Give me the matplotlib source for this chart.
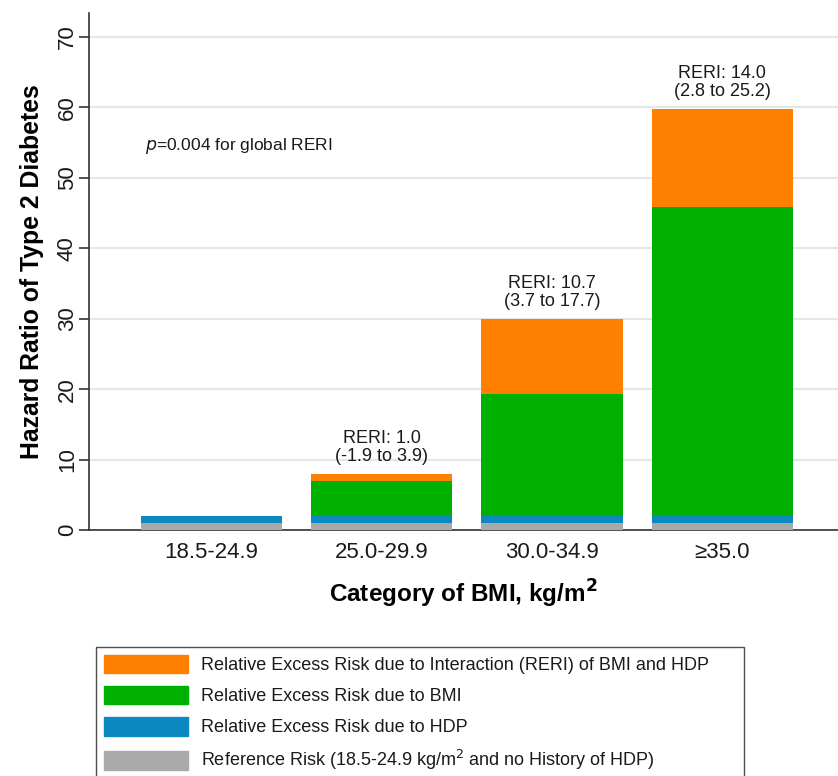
import matplotlib
matplotlib.use("Agg")
import matplotlib.pyplot as plt
import numpy as np
from matplotlib.patches import Patch

plt.rcParams['font.family'] = ['Liberation Sans', 'DejaVu Sans']

# data
categories = ['18.5-24.9', '25.0-29.9', '30.0-34.9', '\u226535.0']
ref_risk = [1.0, 1.0, 1.0, 1.0]
hdp_risk = [1.0, 1.0, 1.0, 1.0]
bmi_risk = [0.0, 5.0, 17.3, 43.8]
reri = [0.0, 1.0, 10.7, 14.0]
reri_labels = ['', 'RERI: 1.0\n(-1.9 to 3.9)', 'RERI: 10.7\n(3.7 to 17.7)', 'RERI: 14.0\n(2.8 to 25.2)']

c_ref = '#AAAAAA'
c_hdp = '#0C89C0'
c_bmi = '#00B000'
c_reri = '#FF7F00'

fig = plt.figure(figsize=(8.38, 7.76), dpi=100)
ax = fig.add_axes([89/838, 1 - 530/776, 1 - 89/838, (530 - 13)/776])

x = np.arange(len(categories))
w = 0.83
b1 = np.array(ref_risk)
b2 = b1 + np.array(hdp_risk)
b3 = b2 + np.array(bmi_risk)
ax.bar(x, ref_risk, w, color=c_ref, zorder=3)
ax.bar(x, hdp_risk, w, bottom=b1, color=c_hdp, zorder=3)
ax.bar(x, bmi_risk, w, bottom=b2, color=c_bmi, zorder=3)
ax.bar(x, reri, w, bottom=b3, color=c_reri, zorder=3)

tops = b3 + np.array(reri)
for xi, t, lab in zip(x, tops, reri_labels):
    if lab:
        ax.text(xi, t + 1.2, lab, ha='center', va='bottom', fontsize=13,
                linespacing=1.1, color='#1a1a1a')

ax.text(-0.39, 54.5, r'$\it{p}$=0.004 for global RERI', fontsize=12.5,
        va='center', ha='left', color='#1a1a1a')

ax.set_xlim(-0.72, 3.68)
ax.set_ylim(0, 73.4)
ax.set_yticks(np.arange(0, 71, 10))
ax.set_xticks(x)
ax.set_xticklabels(categories, fontsize=16, color='#1a1a1a')
ax.tick_params(axis='x', length=0, pad=9)
ax.tick_params(axis='y', length=7, width=1.2, color='#333333', labelsize=16,
               labelcolor='#1a1a1a', pad=1)
for t in ax.get_yticklabels():
    t.set_rotation(90)
    t.set_va('center')

ax.yaxis.grid(True, color='#E6E6E6', linewidth=1.5, zorder=0)
ax.set_axisbelow(True)
for s in ['top', 'right']:
    ax.spines[s].set_visible(False)
ax.spines['left'].set_color('#333333')
ax.spines['bottom'].set_color('#333333')
ax.spines['left'].set_linewidth(1.2)
ax.spines['bottom'].set_linewidth(1.2)

ax.set_ylabel('Hazard Ratio of Type 2 Diabetes', fontsize=17.8, fontweight='bold', labelpad=9)
ax.set_xlabel('Category of BMI, kg/m$^{\\mathbf{2}}$', fontsize=17.5, fontweight='bold', labelpad=10)

handles = [Patch(color=c_reri), Patch(color=c_bmi), Patch(color=c_hdp), Patch(color=c_ref)]
labels = ['Relative Excess Risk due to Interaction (RERI) of BMI and HDP',
          'Relative Excess Risk due to BMI',
          'Relative Excess Risk due to HDP',
          'Reference Risk (18.5-24.9 kg/m$^{2}$ and no History of HDP)']
leg = fig.legend(handles, labels, loc='upper left',
                 bbox_to_anchor=(96/838, 0, (744 - 96)/838, 1 - 647/776),
                 mode='expand', fontsize=13, frameon=True, fancybox=False,
                 edgecolor='#222222', handlelength=4.7, handleheight=1.2,
                 handletextpad=0.7, labelspacing=0.66, borderpad=0.42,
                 borderaxespad=0)
leg.get_frame().set_linewidth(1.0)
for t in leg.get_texts():
    t.set_color('#1a1a1a')

fig.savefig('out.png', dpi=100)
